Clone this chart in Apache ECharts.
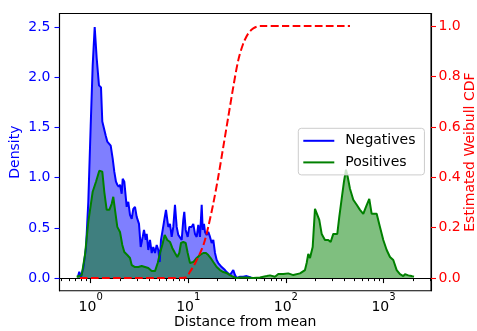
<!DOCTYPE html>
<html>
<head>
<meta charset="utf-8">
<script src="https://cdn.jsdelivr.net/npm/echarts@6/dist/echarts.min.js"></script>
<style>
  html, body { margin: 0; padding: 0; background: #fff; }
  #chart { width: 477px; height: 331px; }
</style>
</head>
<body>
<div id="chart"></div>
<script>
// Negatives density (x on log scale)
const negX = [0.741, 0.764, 0.796, 0.840, 0.895, 0.945, 1.0, 1.048, 1.099, 1.152, 1.216, 1.275, 1.315, 1.378, 1.424, 1.479, 1.540, 1.603, 1.680, 1.745,
  1.816, 1.873, 1.936, 1.996, 2.078, 2.128, 2.210, 2.338, 2.428, 2.527, 2.631, 2.733, 2.844, 2.960, 3.125, 3.253, 3.410, 3.516, 3.660, 3.748,
  3.892, 4.051, 4.217, 4.380, 4.559, 4.746, 4.928, 5.093, 5.251, 5.466, 5.677, 5.909, 6.093, 6.239, 6.494, 6.760, 7.020, 7.306, 7.605, 7.897,
  8.222, 8.558, 8.888, 9.099, 9.406, 9.860, 10.24, 10.83, 11.25, 11.71, 12.19, 12.66, 13.18, 13.72, 14.05, 14.49, 14.83, 15.43, 16.03, 16.69,
  17.37, 18.04, 18.78, 19.54, 20.29, 21.13, 21.99, 22.84, 23.77, 24.74, 25.69, 26.75, 27.85, 28.92, 30.10, 31.33, 32.54, 33.86, 36.60, 39.66,
  42.88, 44.63];
const negY = [0.015, 0.063, 0.013, 0.10, 0.30, 0.76, 1.52, 2.12, 2.50, 2.19, 1.92, 1.90, 1.56, 1.56, 1.42, 1.36, 1.37, 1.32, 1.19, 1.06,
  0.96, 0.93, 0.91, 0.93, 0.84, 0.99, 0.96, 0.71, 0.76, 0.63, 0.59, 0.69, 0.71, 0.61, 0.54, 0.31, 0.41, 0.48, 0.38, 0.44,
  0.28, 0.38, 0.25, 0.31, 0.25, 0.33, 0.28, 0.16, 0.38, 0.48, 0.58, 0.68, 0.58, 0.51, 0.54, 0.41, 0.51, 0.73, 0.51, 0.43,
  0.44, 0.38, 0.58, 0.66, 0.48, 0.41, 0.51, 0.51, 0.54, 0.44, 0.41, 0.53, 0.41, 0.73, 0.48, 0.54, 0.46, 0.43, 0.46, 0.41,
  0.35, 0.38, 0.25, 0.18, 0.15, 0.13, 0.11, 0.11, 0.08, 0.06, 0.05, 0.03, 0.04, 0.08, 0.03, 0.0, 0.0, 0.013, 0.013, 0.02,
  0.01, 0.0];

// Positives density
const posX = [0.719, 0.809, 0.874, 0.945, 1.048, 1.133, 1.225, 1.275, 1.315, 1.378, 1.458, 1.551, 1.641, 1.704, 1.786, 1.873, 1.996, 2.108, 2.210, 2.371,
  2.527, 2.631, 2.844, 3.075, 3.331, 3.601, 3.892, 4.217, 4.559, 4.860, 5.129, 5.415, 5.731, 6.093, 6.494, 6.857, 7.306, 7.714, 8.086, 8.417,
  8.888, 9.406, 9.860, 10.41, 11.25, 12.19, 13.18, 14.25, 15.18, 16.03, 16.96, 18.04, 19.54, 21.13, 22.84, 24.74, 26.75, 28.92, 31.33, 33.86,
  39.66, 46.34, 54.28, 63.59, 68.73, 77.31, 83.59, 94.06, 105.8, 119.1, 139.5, 156.9, 163.3, 169.6, 176.6, 188.2, 198.7, 206.8, 219.9, 232.7,
  251.5, 271.9, 287.7, 306.0, 336.3, 352.5, 372.9, 393.7, 412.8, 429.7, 453.7, 490.5, 531.5, 574.4, 620.9, 661.8, 715.3, 757.0, 786.1, 851.8,
  920.6, 995.4, 1078.5, 1165.8, 1260.3, 1365.3, 1476, 1595.5, 1661, 1795.3, 1945, 2054];
const posY = [0.013, 0.03, 0.23, 0.56, 0.86, 0.96, 1.07, 1.07, 1.06, 0.86, 0.68, 0.68, 0.74, 0.81, 0.66, 0.51, 0.46, 0.33, 0.26, 0.23,
  0.20, 0.13, 0.11, 0.11, 0.12, 0.11, 0.10, 0.07, 0.07, 0.15, 0.25, 0.33, 0.43, 0.38, 0.36, 0.30, 0.25, 0.21, 0.25, 0.35,
  0.36, 0.35, 0.25, 0.15, 0.16, 0.20, 0.23, 0.25, 0.25, 0.23, 0.20, 0.16, 0.11, 0.08, 0.06, 0.05, 0.03, 0.013, 0.0, 0.007,
  0.007, 0.0, 0.007, 0.02, 0.027, 0.013, 0.04, 0.04, 0.047, 0.03, 0.047, 0.08, 0.15, 0.24, 0.20, 0.31, 0.69, 0.68, 0.58, 0.44,
  0.38, 0.38, 0.36, 0.44, 0.44, 0.61, 0.79, 0.96, 1.08, 1.01, 0.89, 0.78, 0.73, 0.68, 0.64, 0.71, 0.79, 0.64, 0.63, 0.64,
  0.51, 0.38, 0.28, 0.21, 0.18, 0.08, 0.04, 0.02, 0.04, 0.027, 0.02, 0.013];

// Estimated Weibull CDF (right axis)
const cdfX = [0.777, 2, 5, 9.25, 10.41, 11.71, 13.18, 14.49, 16.03, 18.04, 20.29, 22.84, 25.69, 28.92, 32.54, 36.60, 41.19, 46.34, 54.28, 100, 454];
const cdfY = [0, 0, 0, 0.001, 0.025, 0.058, 0.098, 0.138, 0.204, 0.296, 0.402, 0.521, 0.640, 0.759, 0.865, 0.931, 0.971, 0.991, 1.0, 1.0, 1.0];

const xMajorTicks = [1, 10, 100, 1000];
const xMinorTicks = [0.5, 0.6, 0.7, 0.8, 0.9, 2, 3, 4, 5, 6, 7, 8, 9, 20, 30, 40, 50, 60, 70, 80, 90,
  200, 300, 400, 500, 600, 700, 800, 900, 2000, 3000];
const leftTicks = [0, 0.5, 1.0, 1.5, 2.0, 2.5];
const rightTicks = [0, 0.2, 0.4, 0.6, 0.8, 1.0];

const FONT = "DejaVu Sans";
const X_MIN = 0.479;
const X_MAX = 3069;

function pairs(xs, ys) {
  return xs.map((x, i) => [x, ys[i]]);
}

const chart = echarts.init(document.getElementById("chart"));

chart.setOption({
  animation: false,
  textStyle: { fontFamily: FONT },
  grid: {
    left: 59.5,
    right: 46,
    top: 13.5,
    bottom: 40.3,
    outerBoundsMode: "none",
    show: true,
    borderColor: "#000",
    borderWidth: 1.1,
    backgroundColor: "transparent",
  },
  legend: {
    orient: "vertical",
    left: 298.3,
    top: 128.3,
    padding: [4.5, 9, 4.5, 5],
    itemGap: 5.6,
    itemWidth: 31,
    itemHeight: 2,
    backgroundColor: "rgba(255,255,255,0.8)",
    borderColor: "#cccccc",
    borderWidth: 1,
    borderRadius: 3,
    textStyle: {
      fontFamily: FONT,
      fontSize: 14,
      lineHeight: 16,
      color: "#000",
      padding: [0, 0, 0, 6],
    },
    data: [
      { name: "Negatives", icon: "rect", itemStyle: { color: "blue" } },
      { name: "Positives", icon: "rect", itemStyle: { color: "#008000" } },
    ],
  },
  xAxis: [
    {
      type: "log",
      logBase: 10,
      min: X_MIN,
      max: X_MAX,
      name: "Distance from mean",
      nameLocation: "middle",
      nameGap: 24.5,
      nameMoveOverlap: false,
      nameTextStyle: { fontFamily: FONT, fontSize: 14, color: "#000" },
      axisLine: { show: true, lineStyle: { color: "#000", width: 1.1 } },
      axisTick: { show: true, length: 5, customValues: xMajorTicks, lineStyle: { color: "#000", width: 1.1 } },
      axisLabel: {
        show: true,
        margin: 2,
        customValues: xMajorTicks,
        formatter: (v) => "{b|10}{s|" + Math.round(Math.log10(v)) + "}",
        rich: {
          b: { fontFamily: FONT, fontSize: 14, lineHeight: 22, color: "#000", verticalAlign: "bottom" },
          s: { fontFamily: FONT, fontSize: 10, lineHeight: 10, color: "#000", verticalAlign: "top" },
        },
      },
      minorTick: { show: false },
      splitLine: { show: false },
    },
    {
      // minor ticks only
      type: "log",
      logBase: 10,
      min: X_MIN,
      max: X_MAX,
      position: "bottom",
      axisLine: { show: false },
      axisTick: { show: true, length: 3, customValues: xMinorTicks, lineStyle: { color: "#000", width: 1 } },
      axisLabel: { show: false },
      splitLine: { show: false },
    },
  ],
  yAxis: [
    {
      type: "value",
      min: -0.1255,
      max: 2.6355,
      name: "Density",
      nameLocation: "middle",
      nameRotate: 90,
      nameGap: 37,
      nameMoveOverlap: false,
      nameTextStyle: { fontFamily: FONT, fontSize: 14, color: "blue" },
      axisLine: { show: true, lineStyle: { color: "#000", width: 1.1 } },
      axisTick: { show: true, length: 5, customValues: leftTicks, lineStyle: { color: "blue", width: 1.1 } },
      axisLabel: {
        margin: 9,
        customValues: leftTicks,
        formatter: (v) => v.toFixed(1),
        fontFamily: FONT,
        fontSize: 14,
        color: "blue",
      },
      splitLine: { show: false },
    },
    {
      type: "value",
      min: -0.05,
      max: 1.05,
      position: "right",
      name: "Estimated Weibull CDF",
      nameLocation: "middle",
      nameRotate: 90,
      nameGap: 32,
      nameMoveOverlap: false,
      nameTextStyle: { fontFamily: FONT, fontSize: 14, color: "red" },
      axisLine: { show: true, lineStyle: { color: "#000", width: 1.1 } },
      axisTick: { show: true, length: 5, customValues: rightTicks, lineStyle: { color: "red", width: 1.1 } },
      axisLabel: {
        margin: 7.5,
        customValues: rightTicks,
        formatter: (v) => v.toFixed(1),
        fontFamily: FONT,
        fontSize: 14,
        color: "red",
      },
      splitLine: { show: false },
    },
  ],
  series: [
    {
      name: "Negatives",
      type: "line",
      xAxisIndex: 0,
      yAxisIndex: 0,
      data: pairs(negX, negY),
      showSymbol: false,
      symbol: "none",
      color: "blue",
      lineStyle: { color: "blue", width: 2 },
      areaStyle: { color: "blue", opacity: 0.5 },
    },
    {
      name: "Positives",
      type: "line",
      xAxisIndex: 0,
      yAxisIndex: 0,
      data: pairs(posX, posY),
      showSymbol: false,
      symbol: "none",
      color: "#008000",
      lineStyle: { color: "#008000", width: 2 },
      areaStyle: { color: "#008000", opacity: 0.5 },
    },
    {
      name: "CDF",
      type: "line",
      xAxisIndex: 0,
      yAxisIndex: 1,
      data: pairs(cdfX, cdfY),
      smooth: 0.3,
      showSymbol: false,
      symbol: "none",
      lineStyle: { color: "red", width: 2, type: [7.7, 3.3] },
      z: 5,
    },
  ],
});
</script>
</body>
</html>
